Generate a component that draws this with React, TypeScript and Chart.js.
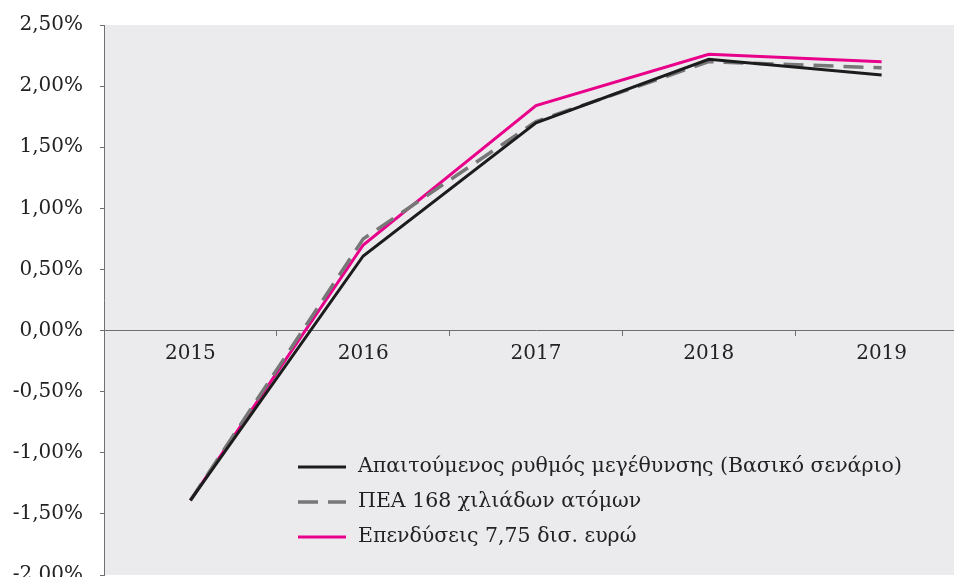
import React, { useEffect, useRef } from "react";
import { Chart, registerables } from "chart.js";

Chart.register(...registerables);

const categories = ["2015", "2016", "2017", "2018", "2019"];
const baseline = [-1.39, 0.61, 1.70, 2.22, 2.09];
const labourForce = [-1.39, 0.75, 1.71, 2.20, 2.15];
const investment = [-1.39, 0.70, 1.84, 2.26, 2.20];
const seriesNames = [
  "Απαιτούμενος ρυθμός μεγέθυνσης (Βασικό σενάριο)",
  "ΠΕΑ 168 χιλιάδων ατόμων",
  "Επενδύσεις 7,75 δισ. ευρώ",
];
const yMin = -2;
const yMax = 2.5;
const yStep = 0.5;

const FONT = "'DejaVu Serif', serif";

const bgPlugin = {
  id: "plotBg",
  beforeDraw(chart: any) {
    const { ctx, chartArea } = chart;
    ctx.save();
    ctx.fillStyle = "#ebebee";
    ctx.fillRect(chartArea.left, chartArea.top, chartArea.right - chartArea.left, chartArea.bottom - chartArea.top);
    ctx.restore();
  },
};

const legendPlugin = {
  id: "innerLegend",
  afterDraw(chart: any) {
    const { ctx, chartArea } = chart;
    const x0 = chartArea.left + 194;
    const lineLen = 48;
    const y0 = chartArea.top + 442;
    const rowH = 35;
    ctx.save();
    chart.data.datasets.forEach((ds: any, i: number) => {
      const y = y0 + i * rowH;
      ctx.strokeStyle = ds.borderColor;
      ctx.lineWidth = ds.borderWidth;
      ctx.setLineDash(ds.borderDash || []);
      ctx.beginPath();
      ctx.moveTo(x0, y);
      ctx.lineTo(x0 + lineLen, y);
      ctx.stroke();
      ctx.setLineDash([]);
      ctx.fillStyle = "#222222";
      ctx.font = `20.5px ${FONT}`;
      ctx.textBaseline = "middle";
      ctx.textAlign = "left";
      ctx.fillText(ds.label, x0 + lineLen + 12, y);
    });
    ctx.restore();
  },
};

export default function App() {
  const ref = useRef<HTMLCanvasElement | null>(null);
  useEffect(() => {
    if (!ref.current) return;
    const chart = new Chart(ref.current, {
      type: "line",
      data: {
        labels: categories,
        datasets: [
          { label: seriesNames[0], data: baseline, borderColor: "#1c1c1c", borderWidth: 3, pointRadius: 0, tension: 0 },
          { label: seriesNames[1], data: labourForce, borderColor: "#777777", borderWidth: 3.5, borderDash: [20, 10], pointRadius: 0, tension: 0 },
          { label: seriesNames[2], data: investment, borderColor: "#e8008a", borderWidth: 3, pointRadius: 0, tension: 0 },
        ],
      },
      options: {
        animation: false,
        responsive: false,
        devicePixelRatio: 1,
        layout: { padding: { top: 25, right: 12, bottom: 25, left: 0 } },
        plugins: { legend: { display: false }, tooltip: { enabled: false } },
        scales: {
          x: {
            type: "category",
            offset: true,
            position: { y: 0 } as any,
            grid: { drawOnChartArea: false, drawTicks: true, tickLength: 5, color: "#6f6f6f", offset: true },
            border: { color: "#6f6f6f", width: 1 },
            ticks: { color: "#222222", font: { family: FONT, size: 20 }, padding: 6, maxRotation: 0 },
          },
          y: {
            min: yMin,
            max: yMax,
            afterFit: (s: any) => { s.width = 104; s.paddingTop = 0; s.paddingBottom = 0; },
            grid: { drawOnChartArea: false, drawTicks: true, tickLength: 4, color: "#6f6f6f" },
            border: { color: "#6f6f6f", width: 1 },
            ticks: {
              stepSize: yStep,
              color: "#222222",
              font: { family: FONT, size: 20 },
              padding: 17,
              callback: (v: any) => Number(v).toFixed(2).replace(".", ",") + "%",
            },
          },
        },
      },
      plugins: [bgPlugin, legendPlugin],
    });
    return () => chart.destroy();
  }, []);
  return (
    <div style={{ position: "fixed", left: 0, top: 0, width: 954, height: 577, overflow: "hidden", background: "#fff" }}>
      <canvas ref={ref} width={980} height={600} style={{ width: 980, height: 600, display: "block" }} />
    </div>
  );
}
